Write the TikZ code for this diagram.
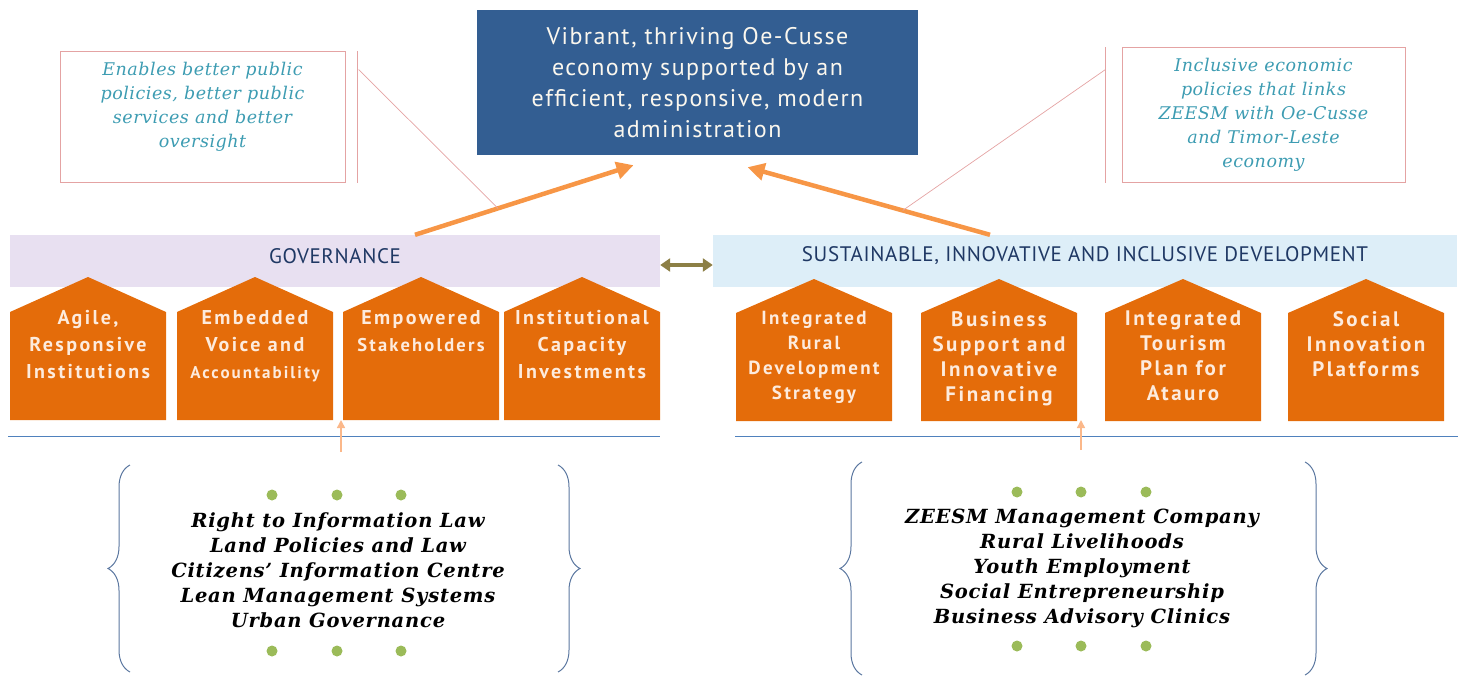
\documentclass[tikz,border=0pt]{standalone}
\usepackage{fontspec}
\newfontfamily\goalsf[LetterSpace=6]{PT Sans}
\newfontfamily\titlesf[LetterSpace=3]{PT Sans}
\newfontfamily\housesf[LetterSpace=12]{PT Sans}
\newfontfamily\notefont[LetterSpace=3]{DejaVu Serif}
\newfontfamily\itemfont[LetterSpace=4]{DejaVu Serif}
\usetikzlibrary{arrows.meta,calc,decorations.pathreplacing}

\definecolor{goalblue}{HTML}{335E92}
\definecolor{goaltext}{HTML}{FBF7EE}
\definecolor{houseorange}{HTML}{E46C0A}
\definecolor{housecream}{HTML}{FDEBDD}
\definecolor{arroworange}{HTML}{F79646}
\definecolor{feedorange}{HTML}{FBB88A}
\definecolor{notepink}{HTML}{E4A3A3}
\definecolor{noteteal}{HTML}{3D9CB2}
\definecolor{govlilac}{HTML}{E8E0F1}
\definecolor{devblue}{HTML}{DDEEF8}
\definecolor{titleblue}{HTML}{1F3864}
\definecolor{ruleblue}{HTML}{4F81BD}
\definecolor{braceblue}{HTML}{5B77A0}
\definecolor{dotgreen}{HTML}{9BBB59}
\definecolor{linkolive}{HTML}{8C7F45}

\begin{document}
\begin{tikzpicture}[x=1pt,y=-1pt,
	goal/.style={fill=goalblue,text=goaltext,align=center,inner sep=0,
		minimum width=441,minimum height=145,font=\goalsf\fontsize{24}{31}\selectfont},
	notebox/.style={draw=notepink,line width=1pt,minimum width=285,minimum height=130},
	notetext/.style={text=noteteal,align=center,font=\notefont\itshape\fontsize{17.5}{24}\selectfont},
	leader/.style={notepink,line width=0.7pt},
	bar/.style={minimum height=52,inner sep=0},
	bartitle/.style={text=titleblue,font=\titlesf\fontsize{21}{22}\selectfont},
	housetext/.style={anchor=north,inner sep=0,align=center,text=housecream},
	items/.style={align=center,font=\itemfont\bfseries\itshape\fontsize{19.5}{25}\selectfont},
	bigarrow/.style={arroworange,line width=4.5pt,-{Triangle[length=17pt,width=17pt]}},
	link/.style={linkolive,line width=4pt,{Triangle[length=10pt,width=13pt]}-{Triangle[length=10pt,width=13pt]}},
	feed/.style={feedorange,line width=1.5pt,-{Triangle[length=8pt,width=8pt]}},
	rule/.style={ruleblue,line width=1pt},
	curly/.style={braceblue,line width=1pt,decorate,decoration={brace,amplitude=22pt}}]
\useasboundingbox (0,0) rectangle (1462,677);

% goal on top
\node[goal] (goal) at (697.5,82.5) {Vibrant, thriving Oe-Cusse\\economy supported by an\\efficient, responsive, modern\\administration};

% the two pillars
\node[bar,fill=govlilac,minimum width=650] (gov) at (335,261) {};
\node[bar,fill=devblue,minimum width=744] (dev) at (1085,261) {};
\node[bartitle] (govtitle) at ([yshift=5]gov.center) {GOVERNANCE};
\node[bartitle] (devtitle) at ([yshift=5]dev.center) {SUSTAINABLE, INNOVATIVE AND INCLUSIVE DEVELOPMENT};
\draw[link] ([yshift=-4]gov.east) -- ([yshift=-4]dev.west);

\coordinate (govfrom) at ([xshift=80]gov.north);
\coordinate (govto) at ([xshift=-64,yshift=-10]goal.south);
\coordinate (devfrom) at ([xshift=-95]dev.north);
\coordinate (devto) at ([xshift=50,yshift=-12]goal.south);
\draw[bigarrow] (govfrom) -- (govto);
\draw[bigarrow] (devfrom) -- (devto);

% notes
\node[notebox] (govnote) at (202.5,117) {};
\node[notetext] (govnotetext) at ([yshift=10]govnote.center) {Enables better public\\policies, better public\\services and better\\oversight};
\node[notebox,minimum width=283,minimum height=134] (devnote) at (1263.5,115) {};
\node[notetext] (devnotetext) at (devnote.center) {Inclusive economic\\policies that links\\ZEESM with Oe-Cusse\\and Timor-Leste\\economy};
\draw[leader] ([xshift=12]govnote.north east) -- ([xshift=12]govnote.south east);
\draw[leader] ([xshift=13,yshift=-18]govnote.north east) -- ($(govfrom)!0.38!(govto)$);
\draw[leader] ([xshift=-16]devnote.north west) -- ([xshift=-16]devnote.south west);
\draw[leader] ([xshift=-16,yshift=-22]devnote.north west) -- ($(devfrom)!0.36!(devto)$);

% houses
\foreach \x/\name/\words in {10/agile/{Agile,\\Responsive\\Institutions},
	177/voice/{Embedded\\Voice and\\{\fontsize{17}{27}\selectfont Accountability}},
	343/stake/{Empowered\\{\fontsize{18.5}{27}\selectfont Stakeholders}},
	504/capacity/{Institutional\\Capacity\\Investments}} {
	\fill[houseorange] (\x,420) -- (\x,312) -- ++(78,-35) -- ++(78,35) -- ++(0,108) -- cycle;
	\node[housetext,font=\housesf\bfseries\fontsize{20}{27}\selectfont] (\name) at (\x+78,310) {\words};
}
\foreach \x/\name/\size/\words in {736/rural/19/{Integrated\\Rural\\Development\\Strategy},
	921/business/21/{Business\\Support and\\Innovative\\Financing},
	1105/tourism/21/{Integrated\\Tourism\\Plan for\\Atauro},
	1288/social/21/{Social\\Innovation\\Platforms}} {
	\fill[houseorange] (\x,421) -- (\x,313) -- ++(78,-34) -- ++(78,34) -- ++(0,108) -- cycle;
	\node[housetext,font=\housesf\bfseries\fontsize{\size}{25}\selectfont] (\name) at (\x+78,311) {\words};
}
\draw[rule] (8,436) -- (660,436);
\draw[rule] (735,436) -- (1458,436);

% what feeds them
\coordinate (govin) at (341,452);
\coordinate (devin) at (1081,450);
\draw[feed] (govin) -- (341,420);
\draw[feed] (devin) -- (1081,420);

\node[items] (govitems) at (338,570) {Right to Information Law\\Land Policies and Law\\Citizens’ Information Centre\\Lean Management Systems\\Urban Governance};
\node[items] (devitems) at (1082,568) {ZEESM Management Company\\Rural Livelihoods\\Youth Employment\\Social Entrepreneurship\\Business Advisory Clinics};
\draw[curly] (130,672) -- (130,465);
\draw[curly] (558,465) -- (558,672);
\draw[curly] (862,675) -- (862,462);
\draw[curly] (1305,462) -- (1305,675);
\foreach \x in {272,337,401} {
	\fill[dotgreen] (\x,495) circle (5.5);
	\fill[dotgreen] (\x,651) circle (5.5);
}
\foreach \x in {1017,1081,1146} {
	\fill[dotgreen] (\x,492) circle (5.5);
	\fill[dotgreen] (\x,646) circle (5.5);
}
\end{tikzpicture}
\end{document}
